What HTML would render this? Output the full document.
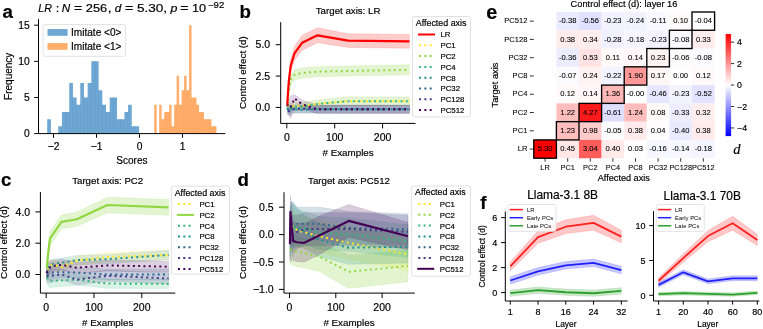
<!DOCTYPE html>
<html><head><meta charset="utf-8"><title>figure</title>
<style>
html,body{margin:0;padding:0;background:#fff;}
body{width:763px;height:329px;overflow:hidden;}
svg{display:block;font-family:"Liberation Sans", sans-serif;will-change:transform;}
text{stroke:#000;stroke-width:0.18px;}
</style></head>
<body>
<svg width="763" height="329" viewBox="0 0 763 329">
<rect width="763" height="329" fill="#fff"/>
<path d="M47.2,133.6V119.15H50.88V133.6ZM58.23,133.6V126.37H61.9V133.6ZM61.9,133.6V111.92H65.58V133.6ZM65.58,133.6V111.92H69.26V133.6ZM69.26,133.6V83.01H72.93V133.6ZM72.93,133.6V97.46H76.61V133.6ZM76.61,133.6V104.69H80.28V133.6ZM80.28,133.6V83.01H83.96V133.6ZM83.96,133.6V97.46H87.64V133.6ZM87.64,133.6V83.01H91.31V133.6ZM91.31,133.6V61.33H94.99V133.6ZM94.99,133.6V61.33H98.66V133.6ZM98.66,133.6V90.24H102.34V133.6ZM102.34,133.6V104.69H106.02V133.6ZM106.02,133.6V111.92H109.69V133.6ZM109.69,133.6V97.46H113.37V133.6ZM113.37,133.6V97.46H117.04V133.6ZM117.04,133.6V119.15H120.72V133.6ZM120.72,133.6V119.15H124.4V133.6ZM124.4,133.6V111.92H128.07V133.6ZM128.07,133.6V104.69H131.75V133.6ZM131.75,133.6V126.37H135.42V133.6ZM135.42,133.6V126.37H139.1V133.6Z" fill="#6ea7d3"/>
<path d="M61.9,133.6V126.37M65.58,133.6V111.92M69.26,133.6V111.92M72.93,133.6V97.46M76.61,133.6V104.69M80.28,133.6V104.69M83.96,133.6V97.46M87.64,133.6V97.46M91.31,133.6V83.01M94.99,133.6V61.33M98.66,133.6V90.24M102.34,133.6V104.69M106.02,133.6V111.92M109.69,133.6V111.92M113.37,133.6V97.46M117.04,133.6V119.15M120.72,133.6V119.15M124.4,133.6V119.15M128.07,133.6V111.92M131.75,133.6V126.37M135.42,133.6V126.37" stroke="#5f9bc9" stroke-width="0.5" fill="none"/>
<path d="M154.2,133.6V104.69H156.69V133.6ZM159.18,133.6V104.69H161.67V133.6ZM161.67,133.6V119.15H164.16V133.6ZM164.16,133.6V111.92H166.65V133.6ZM166.65,133.6V111.92H169.14V133.6ZM169.14,133.6V104.69H171.63V133.6ZM171.63,133.6V126.37H174.12V133.6ZM174.12,133.6V104.69H176.61V133.6ZM176.61,133.6V75.78H179.1V133.6ZM179.1,133.6V104.69H181.59V133.6ZM181.59,133.6V90.24H184.08V133.6ZM184.08,133.6V75.78H186.57V133.6ZM186.57,133.6V90.24H189.06V133.6ZM189.06,133.6V25.19H191.55V133.6ZM191.55,133.6V97.46H194.04V133.6ZM194.04,133.6V97.46H196.53V133.6ZM196.53,133.6V104.69H199.02V133.6ZM199.02,133.6V111.92H201.51V133.6ZM201.51,133.6V111.92H204V133.6ZM204,133.6V119.15H206.49V133.6ZM206.49,133.6V119.15H208.98V133.6ZM208.98,133.6V119.15H211.47V133.6ZM211.47,133.6V126.37H213.96V133.6ZM213.96,133.6V126.37H216.45V133.6Z" fill="#ffae6c"/>
<path d="M161.67,133.6V119.15M164.16,133.6V119.15M166.65,133.6V111.92M169.14,133.6V111.92M171.63,133.6V126.37M174.12,133.6V126.37M176.61,133.6V104.69M179.1,133.6V104.69M181.59,133.6V104.69M184.08,133.6V90.24M186.57,133.6V90.24M189.06,133.6V90.24M191.55,133.6V97.46M194.04,133.6V97.46M196.53,133.6V104.69M199.02,133.6V111.92M201.51,133.6V111.92M204,133.6V119.15M206.49,133.6V119.15M208.98,133.6V119.15M211.47,133.6V126.37M213.96,133.6V126.37" stroke="#ffa45a" stroke-width="0.5" fill="none"/>
<path d="M38.5,19.1 L38.5,133.6 L225.3,133.6" fill="none" stroke="#000" stroke-width="1.0" stroke-linecap="butt"/>
<line x1="34.2" y1="133.6" x2="38.5" y2="133.6" stroke="#000" stroke-width="1" />
<text x="29.7" y="137.31" font-size="10.3" text-anchor="end" >0</text>
<line x1="34.2" y1="97.46" x2="38.5" y2="97.46" stroke="#000" stroke-width="1" />
<text x="29.7" y="101.17" font-size="10.3" text-anchor="end" >5</text>
<line x1="34.2" y1="61.33" x2="38.5" y2="61.33" stroke="#000" stroke-width="1" />
<text x="29.7" y="65.04" font-size="10.3" text-anchor="end" >10</text>
<line x1="34.2" y1="25.19" x2="38.5" y2="25.19" stroke="#000" stroke-width="1" />
<text x="29.7" y="28.9" font-size="10.3" text-anchor="end" >15</text>
<line x1="53.5" y1="133.6" x2="53.5" y2="137.8" stroke="#000" stroke-width="1" />
<text x="53.5" y="150" font-size="10.3" text-anchor="middle" >−2</text>
<line x1="96.5" y1="133.6" x2="96.5" y2="137.8" stroke="#000" stroke-width="1" />
<text x="96.5" y="150" font-size="10.3" text-anchor="middle" >−1</text>
<line x1="139.5" y1="133.6" x2="139.5" y2="137.8" stroke="#000" stroke-width="1" />
<text x="139.5" y="150" font-size="10.3" text-anchor="middle" >0</text>
<line x1="182.5" y1="133.6" x2="182.5" y2="137.8" stroke="#000" stroke-width="1" />
<text x="182.5" y="150" font-size="10.3" text-anchor="middle" >1</text>
<text x="131.9" y="163.5" font-size="10" text-anchor="middle" >Scores</text>
<text transform="translate(11.8,76.3) rotate(-90)" font-size="10" text-anchor="middle" >Frequency</text>
<rect x="43.1" y="24.6" width="82.5" height="31.7" rx="2" fill="#fff" fill-opacity="0.8" stroke="#d9d9d9" stroke-width="0.8"/>
<rect x="47.5" y="29.1" width="20.1" height="6.7" fill="#6ea7d3" />
<rect x="47.5" y="43.1" width="20.1" height="6.7" fill="#ffae6c" />
<text x="71" y="35.9" font-size="10.1" >Imitate &lt;0&gt;</text>
<text x="71" y="49.9" font-size="10.1" >Imitate &lt;1&gt;</text>
<text transform="translate(38.32,12.1) scale(0.9458,1)" font-size="11.3" font-style="italic">LR</text>
<text transform="translate(55.77,12.1) scale(1.1304,1)" font-size="11.3">:</text>
<text transform="translate(61.79,12.1) scale(1.0380,1)" font-size="11.3" font-style="italic">N</text>
<text transform="translate(73.92,12.1) scale(1.2364,1)" font-size="11.3">=</text>
<text transform="translate(85.77,12.1) scale(1.1404,1)" font-size="11.3">256</text>
<text transform="translate(107.68,12.1) scale(1.2174,1)" font-size="11.3">,</text>
<text transform="translate(114.74,12.1) scale(1.0400,1)" font-size="11.3" font-style="italic">d</text>
<text transform="translate(125.01,12.1) scale(1.2545,1)" font-size="11.3">=</text>
<text transform="translate(136.96,12.1) scale(1.2038,1)" font-size="11.3">5.30</text>
<text transform="translate(163.28,12.1) scale(1.2174,1)" font-size="11.3">,</text>
<text transform="translate(170.53,12.1) scale(1.1040,1)" font-size="11.3" font-style="italic">p</text>
<text transform="translate(180.22,12.1) scale(1.2364,1)" font-size="11.3">=</text>
<text transform="translate(191.94,12.1) scale(1.1239,1)" font-size="11.3">10</text>
<text transform="translate(207.95,7.5) scale(1.1159,1)" font-size="8.6">−92</text>
<text x="2.4" y="17.7" font-size="18.7" font-weight="bold" >a</text>
<clipPath id="cb"><rect x="280.7" y="20.2" width="136.8" height="103.2"/></clipPath>
<g clip-path="url(#cb)">
<polygon points="287.28,104.27 287.76,96.11 288.72,87.96 290.63,74.8 294.46,69.78 302.13,67.9 317.46,66.65 348.11,66.02 409.42,64.76 409.42,74.8 348.11,76.05 317.46,76.68 302.13,77.93 294.46,79.81 290.63,84.83 288.72,96.74 287.76,103.64 287.28,108.03" fill="#90d743" fill-opacity="0.25" stroke="#90d743" stroke-opacity="0.25" stroke-width="0.6"/>
<polygon points="287.28,103.64 287.76,102.38 288.72,101.76 290.63,102.38 294.46,101.76 302.13,102.13 317.46,99.88 348.11,96.74 409.42,96.99 409.42,105.77 348.11,105.52 317.46,107.9 302.13,109.66 294.46,109.28 290.63,109.91 288.72,109.28 287.76,108.65 287.28,108.65" fill="#fde725" fill-opacity="0.13" stroke="#fde725" stroke-opacity="0.13" stroke-width="0.6"/>
<polygon points="287.28,104.89 287.76,103.01 288.72,101.76 290.63,103.01 294.46,103.01 302.13,103.01 317.46,99.88 348.11,96.74 409.42,96.99 409.42,105.77 348.11,105.52 317.46,107.9 302.13,110.54 294.46,110.54 290.63,111.79 288.72,110.54 287.76,111.79 287.28,112.42" fill="#35b779" fill-opacity="0.13" stroke="#35b779" stroke-opacity="0.13" stroke-width="0.6"/>
<polygon points="287.28,103.64 287.76,104.89 288.72,104.89 290.63,104.89 294.46,105.52 302.13,106.15 317.46,105.52 348.11,105.52 409.42,105.52 409.42,113.04 348.11,113.04 317.46,113.04 302.13,113.67 294.46,113.04 290.63,112.42 288.72,114.92 287.76,114.92 287.28,113.67" fill="#21918c" fill-opacity="0.13" stroke="#21918c" stroke-opacity="0.13" stroke-width="0.6"/>
<polygon points="287.28,102.38 287.76,103.64 288.72,104.89 290.63,106.15 294.46,105.52 302.13,104.89 317.46,105.52 348.11,105.52 409.42,105.52 409.42,113.04 348.11,113.04 317.46,113.04 302.13,112.42 294.46,113.04 290.63,113.67 288.72,114.92 287.76,113.67 287.28,112.42" fill="#31688e" fill-opacity="0.13" stroke="#31688e" stroke-opacity="0.13" stroke-width="0.6"/>
<polygon points="287.28,104.89 287.76,105.52 288.72,106.15 290.63,106.15 294.46,104.27 302.13,104.89 317.46,105.52 348.11,105.27 409.42,105.27 409.42,113.29 348.11,113.29 317.46,113.04 302.13,112.42 294.46,113.04 290.63,116.18 288.72,116.18 287.76,114.3 287.28,112.42" fill="#443983" fill-opacity="0.13" stroke="#443983" stroke-opacity="0.13" stroke-width="0.6"/>
<polygon points="287.28,102.38 287.76,99.88 288.72,98 290.63,96.11 294.46,94.61 302.13,99.88 317.46,104.89 348.11,105.02 409.42,105.02 409.42,113.54 348.11,113.54 317.46,113.67 302.13,108.65 294.46,102.13 290.63,118.69 288.72,113.04 287.76,109.91 287.28,109.91" fill="#440154" fill-opacity="0.16" stroke="#440154" stroke-opacity="0.16" stroke-width="0.6"/>
<polygon points="287.28,103.64 287.76,92.35 288.72,77.3 290.63,59.75 294.46,46.58 302.13,35.3 317.46,27.77 348.11,33.66 409.42,34.42 409.42,48.21 348.11,47.46 317.46,42.82 302.13,50.34 294.46,60.38 290.63,72.29 288.72,87.34 287.76,99.88 287.28,106.15" fill="#ff0000" fill-opacity="0.2" stroke="#ff0000" stroke-opacity="0.2" stroke-width="0.6"/>
<polyline points="287.28,106.15 287.76,99.88 288.72,92.35 290.63,79.81 294.46,74.8 302.13,72.92 317.46,71.66 348.11,71.03 409.42,69.78" fill="none" stroke="#90d743" stroke-width="2" stroke-dasharray="2 3.3" stroke-linecap="butt" stroke-linejoin="round" />
<polyline points="287.28,106.15 287.76,105.52 288.72,105.52 290.63,106.15 294.46,105.52 302.13,105.9 317.46,103.89 348.11,101.13 409.42,101.38" fill="none" stroke="#fde725" stroke-width="2" stroke-dasharray="2 3.3" stroke-linecap="butt" stroke-linejoin="round" />
<polyline points="287.28,108.65 287.76,107.4 288.72,106.15 290.63,107.4 294.46,106.77 302.13,106.77 317.46,103.89 348.11,101.13 409.42,101.38" fill="none" stroke="#35b779" stroke-width="2" stroke-dasharray="2 3.3" stroke-linecap="butt" stroke-linejoin="round" stroke-dashoffset="1.074"/>
<polyline points="287.28,108.65 287.76,109.91 288.72,109.91 290.63,108.65 294.46,109.28 302.13,109.91 317.46,109.28 348.11,109.28 409.42,109.28" fill="none" stroke="#21918c" stroke-width="2" stroke-dasharray="2 3.3" stroke-linecap="butt" stroke-linejoin="round" stroke-dashoffset="1.323"/>
<polyline points="287.28,107.4 287.76,108.65 288.72,109.91 290.63,109.91 294.46,109.28 302.13,108.65 317.46,109.28 348.11,109.28 409.42,109.28" fill="none" stroke="#31688e" stroke-width="2" stroke-dasharray="2 3.3" stroke-linecap="butt" stroke-linejoin="round" stroke-dashoffset="3.727"/>
<polyline points="287.28,108.65 287.76,109.91 288.72,111.16 290.63,111.16 294.46,108.65 302.13,108.65 317.46,109.28 348.11,109.28 409.42,109.28" fill="none" stroke="#443983" stroke-width="2" stroke-dasharray="2 3.3" stroke-linecap="butt" stroke-linejoin="round" stroke-dashoffset="3.056"/>
<polyline points="287.28,106.15 287.76,104.89 288.72,105.52 290.63,107.4 294.46,98.37 302.13,104.27 317.46,109.28 348.11,109.28 409.42,109.28" fill="none" stroke="#440154" stroke-width="2" stroke-dasharray="2 3.3" stroke-linecap="butt" stroke-linejoin="round" />
<polyline points="287.28,104.89 287.76,96.11 288.72,82.32 290.63,66.02 294.46,53.48 302.13,42.82 317.46,35.3 348.11,40.56 409.42,41.31" fill="none" stroke="#ff0000" stroke-width="2.2" stroke-linecap="butt" stroke-linejoin="round" />
</g>
<path d="M280.7,22.2 L280.7,123.4 L415.5,123.4" fill="none" stroke="#000" stroke-width="1.0" stroke-linecap="butt"/>
<line x1="275.7" y1="107.4" x2="280.7" y2="107.4" stroke="#000" stroke-width="1" />
<text x="270.2" y="111.18" font-size="10.5" text-anchor="end" >0.0</text>
<line x1="275.7" y1="76.05" x2="280.7" y2="76.05" stroke="#000" stroke-width="1" />
<text x="270.2" y="79.83" font-size="10.5" text-anchor="end" >2.5</text>
<line x1="275.7" y1="44.7" x2="280.7" y2="44.7" stroke="#000" stroke-width="1" />
<text x="270.2" y="48.48" font-size="10.5" text-anchor="end" >5.0</text>
<line x1="286.8" y1="123.4" x2="286.8" y2="128.4" stroke="#000" stroke-width="1" />
<text x="286.8" y="141.3" font-size="10.5" text-anchor="middle" >0</text>
<line x1="334.7" y1="123.4" x2="334.7" y2="128.4" stroke="#000" stroke-width="1" />
<text x="334.7" y="141.3" font-size="10.5" text-anchor="middle" >100</text>
<line x1="382.6" y1="123.4" x2="382.6" y2="128.4" stroke="#000" stroke-width="1" />
<text x="382.6" y="141.3" font-size="10.5" text-anchor="middle" >200</text>
<text x="348.1" y="14.4" font-size="9.7" text-anchor="middle" >Target axis: LR</text>
<text x="348.1" y="156.2" font-size="9.8" text-anchor="middle" ># Examples</text>
<text transform="translate(246.3,72.6) rotate(-90)" font-size="9.8" text-anchor="middle" >Control effect (d)</text>
<rect x="412.5" y="16.5" width="58" height="100.4" rx="2" fill="#fff" fill-opacity="0.8" stroke="#d9d9d9" stroke-width="0.8"/>
<text x="415.8" y="25.9" font-size="8.9" >Affected axis</text>
<line x1="418" y1="34.5" x2="435" y2="34.5" stroke="#ff0000" stroke-width="2" />
<text x="440.5" y="37.4" font-size="7.8" >LR</text>
<line x1="419.1" y1="45.3" x2="432.7" y2="45.3" stroke="#fde725" stroke-width="2" stroke-dasharray="2 3.3"/>
<text x="440.5" y="48.2" font-size="7.8" >PC1</text>
<line x1="419.1" y1="56.1" x2="432.7" y2="56.1" stroke="#90d743" stroke-width="2" stroke-dasharray="2 3.3"/>
<text x="440.5" y="59" font-size="7.8" >PC2</text>
<line x1="419.1" y1="66.9" x2="432.7" y2="66.9" stroke="#35b779" stroke-width="2" stroke-dasharray="2 3.3"/>
<text x="440.5" y="69.8" font-size="7.8" >PC4</text>
<line x1="419.1" y1="77.7" x2="432.7" y2="77.7" stroke="#21918c" stroke-width="2" stroke-dasharray="2 3.3"/>
<text x="440.5" y="80.6" font-size="7.8" >PC8</text>
<line x1="419.1" y1="88.5" x2="432.7" y2="88.5" stroke="#31688e" stroke-width="2" stroke-dasharray="2 3.3"/>
<text x="440.5" y="91.4" font-size="7.8" >PC32</text>
<line x1="419.1" y1="99.3" x2="432.7" y2="99.3" stroke="#443983" stroke-width="2" stroke-dasharray="2 3.3"/>
<text x="440.5" y="102.2" font-size="7.8" >PC128</text>
<line x1="419.1" y1="110.1" x2="432.7" y2="110.1" stroke="#440154" stroke-width="2" stroke-dasharray="2 3.3"/>
<text x="440.5" y="113" font-size="7.8" >PC512</text>
<text x="239.4" y="18.1" font-size="18.7" font-weight="bold" >b</text>
<clipPath id="cc"><rect x="40.4" y="190.1" width="136.9" height="103"/></clipPath>
<g clip-path="url(#cc)">
<polygon points="46.68,267.46 47.16,265.11 48.11,262.76 50.02,259.63 53.85,260.1 61.5,262.45 76.79,256.03 107.38,252.28 168.57,250.24 168.57,259.63 107.38,261.67 76.79,265.42 61.5,271.84 53.85,269.49 50.02,270.59 48.11,275.28 47.16,277.63 46.68,278.41" fill="#fde725" fill-opacity="0.16" stroke="#fde725" stroke-opacity="0.16" stroke-width="0.6"/>
<polygon points="46.68,272.15 47.16,271.37 48.11,272.15 50.02,273.72 53.85,274.5 61.5,274.19 76.79,274.19 107.38,278.88 168.57,279.19 168.57,288.58 107.38,288.27 76.79,285.14 61.5,286.71 53.85,287.02 50.02,287.8 48.11,286.24 47.16,283.89 46.68,283.11" fill="#35b779" fill-opacity="0.18" stroke="#35b779" stroke-opacity="0.18" stroke-width="0.6"/>
<polygon points="46.68,267.46 47.16,265.11 48.11,262.76 50.02,259.63 53.85,258.85 61.5,258.07 76.79,255.41 107.38,254.47 168.57,250.24 168.57,259.63 107.38,263.86 76.79,264.8 61.5,267.46 53.85,268.24 50.02,270.59 48.11,275.28 47.16,277.63 46.68,278.41" fill="#21918c" fill-opacity="0.16" stroke="#21918c" stroke-opacity="0.16" stroke-width="0.6"/>
<polygon points="46.68,268.24 47.16,267.46 48.11,266.21 50.02,265.89 53.85,266.05 61.5,266.83 76.79,267.14 107.38,269.02 168.57,269.02 168.57,279.98 107.38,279.98 76.79,278.1 61.5,277.79 53.85,278.57 50.02,279.98 48.11,280.29 47.16,279.98 46.68,279.19" fill="#31688e" fill-opacity="0.16" stroke="#31688e" stroke-opacity="0.16" stroke-width="0.6"/>
<polygon points="46.68,270.59 47.16,269.81 48.11,269.02 50.02,269.02 53.85,269.02 61.5,269.02 76.79,274.03 107.38,270.27 168.57,272.94 168.57,283.89 107.38,281.23 76.79,284.99 61.5,279.98 53.85,281.54 50.02,283.11 48.11,283.11 47.16,282.32 46.68,281.54" fill="#443983" fill-opacity="0.16" stroke="#443983" stroke-opacity="0.16" stroke-width="0.6"/>
<polygon points="46.68,267.46 47.16,265.11 48.11,263.55 50.02,261.2 53.85,260.42 61.5,259.32 76.79,262.29 107.38,259.95 168.57,261.2 168.57,272.15 107.38,270.9 76.79,273.25 61.5,270.27 53.85,271.37 50.02,273.72 48.11,276.06 47.16,277.63 46.68,278.41" fill="#440154" fill-opacity="0.18" stroke="#440154" stroke-opacity="0.18" stroke-width="0.6"/>
<polygon points="46.68,262.92 47.16,258.07 48.11,247.89 50.02,231.31 53.85,225.83 61.5,215.03 76.79,212.21 107.38,197.19 168.57,199.54 168.57,215.19 107.38,212.84 76.79,226.3 61.5,228.8 53.85,239.91 50.02,245.39 48.11,260.42 47.16,269.02 46.68,272.31" fill="#90d743" fill-opacity="0.25" stroke="#90d743" stroke-opacity="0.25" stroke-width="0.6"/>
<polyline points="46.68,272.94 47.16,271.37 48.11,269.02 50.02,265.11 53.85,264.8 61.5,267.14 76.79,260.73 107.38,256.97 168.57,254.94" fill="none" stroke="#fde725" stroke-width="2" stroke-dasharray="2 3.3" stroke-linecap="butt" stroke-linejoin="round" stroke-dashoffset="1.356"/>
<polyline points="46.68,277.63 47.16,277.63 48.11,279.19 50.02,280.76 53.85,280.76 61.5,280.45 76.79,279.66 107.38,283.58 168.57,283.89" fill="none" stroke="#35b779" stroke-width="2" stroke-dasharray="2 3.3" stroke-linecap="butt" stroke-linejoin="round" />
<polyline points="46.68,272.94 47.16,271.37 48.11,269.02 50.02,265.11 53.85,263.55 61.5,262.76 76.79,260.1 107.38,259.16 168.57,254.94" fill="none" stroke="#21918c" stroke-width="2" stroke-dasharray="2 3.3" stroke-linecap="butt" stroke-linejoin="round" />
<polyline points="46.68,273.72 47.16,273.72 48.11,273.25 50.02,272.94 53.85,272.31 61.5,272.31 76.79,272.62 107.38,274.5 168.57,274.5" fill="none" stroke="#31688e" stroke-width="2" stroke-dasharray="2 3.3" stroke-linecap="butt" stroke-linejoin="round" />
<polyline points="46.68,276.06 47.16,276.06 48.11,276.06 50.02,276.06 53.85,275.28 61.5,274.5 76.79,279.51 107.38,275.75 168.57,278.41" fill="none" stroke="#443983" stroke-width="2" stroke-dasharray="2 3.3" stroke-linecap="butt" stroke-linejoin="round" />
<polyline points="46.68,272.94 47.16,271.37 48.11,269.81 50.02,267.46 53.85,265.89 61.5,264.8 76.79,267.77 107.38,265.42 168.57,266.68" fill="none" stroke="#440154" stroke-width="2" stroke-dasharray="2 3.3" stroke-linecap="butt" stroke-linejoin="round" />
<polyline points="46.68,267.61 47.16,263.55 48.11,254.16 50.02,238.35 53.85,232.87 61.5,221.92 76.79,219.26 107.38,205.01 168.57,207.36" fill="none" stroke="#90d743" stroke-width="2.2" stroke-linecap="butt" stroke-linejoin="round" />
</g>
<path d="M40.4,192.1 L40.4,293.1 L175.3,293.1" fill="none" stroke="#000" stroke-width="1.0" stroke-linecap="butt"/>
<line x1="35.4" y1="274.5" x2="40.4" y2="274.5" stroke="#000" stroke-width="1" />
<text x="30.2" y="278.28" font-size="10.5" text-anchor="end" >0.0</text>
<line x1="35.4" y1="243.2" x2="40.4" y2="243.2" stroke="#000" stroke-width="1" />
<text x="30.2" y="246.98" font-size="10.5" text-anchor="end" >2.0</text>
<line x1="35.4" y1="211.9" x2="40.4" y2="211.9" stroke="#000" stroke-width="1" />
<text x="30.2" y="215.68" font-size="10.5" text-anchor="end" >4.0</text>
<line x1="46.2" y1="293.1" x2="46.2" y2="298.1" stroke="#000" stroke-width="1" />
<text x="46.2" y="311" font-size="10.5" text-anchor="middle" >0</text>
<line x1="94" y1="293.1" x2="94" y2="298.1" stroke="#000" stroke-width="1" />
<text x="94" y="311" font-size="10.5" text-anchor="middle" >100</text>
<line x1="141.8" y1="293.1" x2="141.8" y2="298.1" stroke="#000" stroke-width="1" />
<text x="141.8" y="311" font-size="10.5" text-anchor="middle" >200</text>
<text x="107.7" y="184.4" font-size="9.7" text-anchor="middle" >Target axis: PC2</text>
<text x="107.7" y="325.9" font-size="9.8" text-anchor="middle" ># Examples</text>
<text transform="translate(7,242.5) rotate(-90)" font-size="9.8" text-anchor="middle" >Control effect (d)</text>
<rect x="171.4" y="186.1" width="58.1" height="88" rx="2" fill="#fff" fill-opacity="0.8" stroke="#d9d9d9" stroke-width="0.8"/>
<text x="174.7" y="195.5" font-size="8.9" >Affected axis</text>
<line x1="178" y1="204.1" x2="191.6" y2="204.1" stroke="#fde725" stroke-width="2" stroke-dasharray="2 3.3"/>
<text x="199.4" y="207" font-size="7.8" >PC1</text>
<line x1="176.9" y1="214.9" x2="193.9" y2="214.9" stroke="#90d743" stroke-width="2" />
<text x="199.4" y="217.8" font-size="7.8" >PC2</text>
<line x1="178" y1="225.7" x2="191.6" y2="225.7" stroke="#35b779" stroke-width="2" stroke-dasharray="2 3.3"/>
<text x="199.4" y="228.6" font-size="7.8" >PC4</text>
<line x1="178" y1="236.5" x2="191.6" y2="236.5" stroke="#21918c" stroke-width="2" stroke-dasharray="2 3.3"/>
<text x="199.4" y="239.4" font-size="7.8" >PC8</text>
<line x1="178" y1="247.3" x2="191.6" y2="247.3" stroke="#31688e" stroke-width="2" stroke-dasharray="2 3.3"/>
<text x="199.4" y="250.2" font-size="7.8" >PC32</text>
<line x1="178" y1="258.1" x2="191.6" y2="258.1" stroke="#443983" stroke-width="2" stroke-dasharray="2 3.3"/>
<text x="199.4" y="261" font-size="7.8" >PC128</text>
<line x1="178" y1="268.9" x2="191.6" y2="268.9" stroke="#440154" stroke-width="2" stroke-dasharray="2 3.3"/>
<text x="199.4" y="271.8" font-size="7.8" >PC512</text>
<text x="1.1" y="185.5" font-size="18.7" font-weight="bold" >c</text>
<clipPath id="cd"><rect x="284" y="190.2" width="132.8" height="102.9"/></clipPath>
<g clip-path="url(#cd)">
<polygon points="289.96,220.9 290.43,215.42 291.35,212.68 293.2,209.94 296.91,213.78 304.32,215.97 319.13,219.8 348.76,226.38 408.03,237.89 408.03,270.77 348.76,259.26 319.13,252.68 304.32,248.85 296.91,246.66 293.2,242.82 291.35,245.56 290.43,242.82 289.96,242.82" fill="#fde725" fill-opacity="0.2" stroke="#fde725" stroke-opacity="0.2" stroke-width="0.6"/>
<polygon points="289.96,235.15 290.43,235.15 291.35,235.15 293.2,236.24 296.91,236.79 304.32,238.44 319.13,241.72 348.76,255.42 408.03,249.94 408.03,281.73 348.76,288.3 319.13,271.32 304.32,268.03 296.91,266.38 293.2,265.84 291.35,264.74 290.43,263.64 289.96,263.64" fill="#90d743" fill-opacity="0.25" stroke="#90d743" stroke-opacity="0.25" stroke-width="0.6"/>
<polygon points="289.96,223.64 290.43,212.68 291.35,204.46 293.2,204.46 296.91,209.94 304.32,211.58 319.13,216.52 348.76,218.16 408.03,224.74 408.03,257.62 348.76,251.04 319.13,249.4 304.32,244.46 296.91,248.3 293.2,248.3 291.35,253.78 290.43,256.52 289.96,256.52" fill="#35b779" fill-opacity="0.2" stroke="#35b779" stroke-opacity="0.2" stroke-width="0.6"/>
<polygon points="289.96,218.16 290.43,207.2 291.35,201.72 293.2,204.46 296.91,207.2 304.32,215.42 319.13,223.64 348.76,231.31 408.03,230.22 408.03,263.1 348.76,264.19 319.13,256.52 304.32,248.3 296.91,245.56 293.2,248.3 291.35,251.04 290.43,251.04 289.96,251.04" fill="#21918c" fill-opacity="0.2" stroke="#21918c" stroke-opacity="0.2" stroke-width="0.6"/>
<polygon points="289.96,212.68 290.43,207.2 291.35,201.72 293.2,201.72 296.91,207.2 304.32,207.2 319.13,207.2 348.76,211.58 408.03,213.78 408.03,244.46 348.76,244.46 319.13,240.08 304.32,240.08 296.91,240.08 293.2,245.56 291.35,245.56 290.43,245.56 289.96,245.56" fill="#31688e" fill-opacity="0.2" stroke="#31688e" stroke-opacity="0.2" stroke-width="0.6"/>
<polygon points="289.96,218.16 290.43,220.9 291.35,218.16 293.2,215.42 296.91,215.42 304.32,212.68 319.13,212.68 348.76,212.68 408.03,215.42 408.03,248.3 348.76,245.56 319.13,245.56 304.32,245.56 296.91,248.3 293.2,253.78 291.35,262 290.43,259.26 289.96,251.04" fill="#443983" fill-opacity="0.2" stroke="#443983" stroke-opacity="0.2" stroke-width="0.6"/>
<polygon points="289.96,227.48 290.43,195.69 291.35,204.46 293.2,222 296.91,223.09 304.32,223.64 319.13,216.35 348.76,204.46 408.03,222.54 408.03,249.94 348.76,237.34 319.13,254.71 304.32,262 296.91,261.45 293.2,260.36 291.35,242.82 290.43,228.57 289.96,260.36" fill="#440154" fill-opacity="0.2" stroke="#440154" stroke-opacity="0.2" stroke-width="0.6"/>
<polyline points="289.96,231.86 290.43,229.12 291.35,229.12 293.2,226.38 296.91,230.22 304.32,232.41 319.13,236.24 348.76,242.82 408.03,254.33" fill="none" stroke="#fde725" stroke-width="2" stroke-dasharray="2 3.3" stroke-linecap="butt" stroke-linejoin="round" />
<polyline points="289.96,249.4 290.43,249.4 291.35,249.94 293.2,251.04 296.91,251.59 304.32,253.23 319.13,256.52 348.76,271.86 408.03,265.84" fill="none" stroke="#90d743" stroke-width="2" stroke-dasharray="2 3.3" stroke-linecap="butt" stroke-linejoin="round" />
<polyline points="289.96,240.08 290.43,234.6 291.35,229.12 293.2,226.38 296.91,229.12 304.32,228.02 319.13,232.96 348.76,234.6 408.03,241.18" fill="none" stroke="#35b779" stroke-width="2" stroke-dasharray="2 3.3" stroke-linecap="butt" stroke-linejoin="round" />
<polyline points="289.96,234.6 290.43,229.12 291.35,226.38 293.2,226.38 296.91,226.38 304.32,231.86 319.13,240.08 348.76,247.75 408.03,246.66" fill="none" stroke="#21918c" stroke-width="2" stroke-dasharray="2 3.3" stroke-linecap="butt" stroke-linejoin="round" />
<polyline points="289.96,229.12 290.43,226.38 291.35,223.64 293.2,223.64 296.91,223.64 304.32,223.64 319.13,223.64 348.76,228.02 408.03,229.12" fill="none" stroke="#31688e" stroke-width="2" stroke-dasharray="2 3.3" stroke-linecap="butt" stroke-linejoin="round" />
<polyline points="289.96,234.6 290.43,240.08 291.35,240.08 293.2,234.6 296.91,231.86 304.32,229.12 319.13,229.12 348.76,229.12 408.03,231.86" fill="none" stroke="#443983" stroke-width="2" stroke-dasharray="2 3.3" stroke-linecap="butt" stroke-linejoin="round" />
<polyline points="289.96,243.92 290.43,212.13 291.35,223.64 293.2,241.18 296.91,242.27 304.32,242.82 319.13,235.53 348.76,220.9 408.03,236.24" fill="none" stroke="#440154" stroke-width="2.2" stroke-linecap="butt" stroke-linejoin="round" />
</g>
<path d="M284,192.2 L284,293.1 L414.8,293.1" fill="none" stroke="#000" stroke-width="1.0" stroke-linecap="butt"/>
<line x1="279" y1="289.4" x2="284" y2="289.4" stroke="#000" stroke-width="1" />
<text x="273.7" y="293.18" font-size="10.5" text-anchor="end" >−1.0</text>
<line x1="279" y1="262" x2="284" y2="262" stroke="#000" stroke-width="1" />
<text x="273.7" y="265.78" font-size="10.5" text-anchor="end" >−0.5</text>
<line x1="279" y1="234.6" x2="284" y2="234.6" stroke="#000" stroke-width="1" />
<text x="273.7" y="238.38" font-size="10.5" text-anchor="end" >0.0</text>
<line x1="279" y1="207.2" x2="284" y2="207.2" stroke="#000" stroke-width="1" />
<text x="273.7" y="210.98" font-size="10.5" text-anchor="end" >0.5</text>
<line x1="289.5" y1="293.1" x2="289.5" y2="298.1" stroke="#000" stroke-width="1" />
<text x="289.5" y="311" font-size="10.5" text-anchor="middle" >0</text>
<line x1="335.8" y1="293.1" x2="335.8" y2="298.1" stroke="#000" stroke-width="1" />
<text x="335.8" y="311" font-size="10.5" text-anchor="middle" >100</text>
<line x1="382.1" y1="293.1" x2="382.1" y2="298.1" stroke="#000" stroke-width="1" />
<text x="382.1" y="311" font-size="10.5" text-anchor="middle" >200</text>
<text x="349" y="184.4" font-size="9.7" text-anchor="middle" >Target axis: PC512</text>
<text x="349" y="325.9" font-size="9.8" text-anchor="middle" ># Examples</text>
<text transform="translate(246.2,242.5) rotate(-90)" font-size="9.8" text-anchor="middle" >Control effect (d)</text>
<rect x="411.7" y="186" width="58.8" height="90.2" rx="2" fill="#fff" fill-opacity="0.8" stroke="#d9d9d9" stroke-width="0.8"/>
<text x="415" y="195.4" font-size="8.9" >Affected axis</text>
<line x1="418.3" y1="204" x2="431.9" y2="204" stroke="#fde725" stroke-width="2" stroke-dasharray="2 3.3"/>
<text x="439.7" y="206.9" font-size="7.8" >PC1</text>
<line x1="418.3" y1="214.8" x2="431.9" y2="214.8" stroke="#90d743" stroke-width="2" stroke-dasharray="2 3.3"/>
<text x="439.7" y="217.7" font-size="7.8" >PC2</text>
<line x1="418.3" y1="225.6" x2="431.9" y2="225.6" stroke="#35b779" stroke-width="2" stroke-dasharray="2 3.3"/>
<text x="439.7" y="228.5" font-size="7.8" >PC4</text>
<line x1="418.3" y1="236.4" x2="431.9" y2="236.4" stroke="#21918c" stroke-width="2" stroke-dasharray="2 3.3"/>
<text x="439.7" y="239.3" font-size="7.8" >PC8</text>
<line x1="418.3" y1="247.2" x2="431.9" y2="247.2" stroke="#31688e" stroke-width="2" stroke-dasharray="2 3.3"/>
<text x="439.7" y="250.1" font-size="7.8" >PC32</text>
<line x1="418.3" y1="258" x2="431.9" y2="258" stroke="#443983" stroke-width="2" stroke-dasharray="2 3.3"/>
<text x="439.7" y="260.9" font-size="7.8" >PC128</text>
<line x1="417.2" y1="268.8" x2="434.2" y2="268.8" stroke="#440154" stroke-width="2" />
<text x="439.7" y="271.7" font-size="7.8" >PC512</text>
<text x="237.4" y="186.2" font-size="18.7" font-weight="bold" >d</text>
<rect x="556.4" y="12" width="22.65" height="18.32" fill="rgb(235,235,255)" />
<rect x="579" y="12" width="22.65" height="18.32" fill="rgb(225,225,255)" />
<rect x="601.6" y="12" width="22.65" height="18.32" fill="rgb(243,243,255)" />
<rect x="624.2" y="12" width="22.65" height="18.32" fill="rgb(242,242,255)" />
<rect x="646.8" y="12" width="22.65" height="18.32" fill="rgb(249,249,255)" />
<rect x="669.4" y="12" width="22.65" height="18.32" fill="rgb(255,250,250)" />
<rect x="692" y="12" width="22.65" height="18.32" fill="rgb(253,253,255)" />
<rect x="556.4" y="30.27" width="22.65" height="18.32" fill="rgb(255,235,235)" />
<rect x="579" y="30.27" width="22.65" height="18.32" fill="rgb(255,237,237)" />
<rect x="601.6" y="30.27" width="22.65" height="18.32" fill="rgb(240,240,255)" />
<rect x="624.2" y="30.27" width="22.65" height="18.32" fill="rgb(245,245,255)" />
<rect x="646.8" y="30.27" width="22.65" height="18.32" fill="rgb(243,243,255)" />
<rect x="669.4" y="30.27" width="22.65" height="18.32" fill="rgb(251,251,255)" />
<rect x="692" y="30.27" width="22.65" height="18.32" fill="rgb(255,237,237)" />
<rect x="556.4" y="48.55" width="22.65" height="18.32" fill="rgb(236,236,255)" />
<rect x="579" y="48.55" width="22.65" height="18.32" fill="rgb(255,227,227)" />
<rect x="601.6" y="48.55" width="22.65" height="18.32" fill="rgb(255,249,249)" />
<rect x="624.2" y="48.55" width="22.65" height="18.32" fill="rgb(255,247,247)" />
<rect x="646.8" y="48.55" width="22.65" height="18.32" fill="rgb(255,243,243)" />
<rect x="669.4" y="48.55" width="22.65" height="18.32" fill="rgb(252,252,255)" />
<rect x="692" y="48.55" width="22.65" height="18.32" fill="rgb(251,251,255)" />
<rect x="556.4" y="66.82" width="22.65" height="18.32" fill="rgb(251,251,255)" />
<rect x="579" y="66.82" width="22.65" height="18.32" fill="rgb(255,242,242)" />
<rect x="601.6" y="66.82" width="22.65" height="18.32" fill="rgb(243,243,255)" />
<rect x="624.2" y="66.82" width="22.65" height="18.32" fill="rgb(255,153,153)" />
<rect x="646.8" y="66.82" width="22.65" height="18.32" fill="rgb(255,246,246)" />
<rect x="669.4" y="66.82" width="22.65" height="18.32" fill="rgb(255,255,255)" />
<rect x="692" y="66.82" width="22.65" height="18.32" fill="rgb(255,249,249)" />
<rect x="556.4" y="85.1" width="22.65" height="18.32" fill="rgb(255,249,249)" />
<rect x="579" y="85.1" width="22.65" height="18.32" fill="rgb(255,247,247)" />
<rect x="601.6" y="85.1" width="22.65" height="18.32" fill="rgb(255,182,182)" />
<rect x="624.2" y="85.1" width="22.65" height="18.32" fill="rgb(255,255,255)" />
<rect x="646.8" y="85.1" width="22.65" height="18.32" fill="rgb(230,230,255)" />
<rect x="669.4" y="85.1" width="22.65" height="18.32" fill="rgb(243,243,255)" />
<rect x="692" y="85.1" width="22.65" height="18.32" fill="rgb(227,227,255)" />
<rect x="556.4" y="103.38" width="22.65" height="18.32" fill="rgb(255,190,190)" />
<rect x="579" y="103.38" width="22.65" height="18.32" fill="rgb(255,26,26)" />
<rect x="601.6" y="103.38" width="22.65" height="18.32" fill="rgb(222,222,255)" />
<rect x="624.2" y="103.38" width="22.65" height="18.32" fill="rgb(255,188,188)" />
<rect x="646.8" y="103.38" width="22.65" height="18.32" fill="rgb(255,251,251)" />
<rect x="669.4" y="103.38" width="22.65" height="18.32" fill="rgb(237,237,255)" />
<rect x="692" y="103.38" width="22.65" height="18.32" fill="rgb(255,238,238)" />
<rect x="556.4" y="121.65" width="22.65" height="18.32" fill="rgb(255,189,189)" />
<rect x="579" y="121.65" width="22.65" height="18.32" fill="rgb(255,202,202)" />
<rect x="601.6" y="121.65" width="22.65" height="18.32" fill="rgb(252,252,255)" />
<rect x="624.2" y="121.65" width="22.65" height="18.32" fill="rgb(255,235,235)" />
<rect x="646.8" y="121.65" width="22.65" height="18.32" fill="rgb(255,253,253)" />
<rect x="669.4" y="121.65" width="22.65" height="18.32" fill="rgb(234,234,255)" />
<rect x="692" y="121.65" width="22.65" height="18.32" fill="rgb(255,235,235)" />
<rect x="533.8" y="139.92" width="22.65" height="18.32" fill="rgb(255,0,0)" />
<rect x="556.4" y="139.92" width="22.65" height="18.32" fill="rgb(255,231,231)" />
<rect x="579" y="139.92" width="22.65" height="18.32" fill="rgb(255,92,92)" />
<rect x="601.6" y="139.92" width="22.65" height="18.32" fill="rgb(255,234,234)" />
<rect x="624.2" y="139.92" width="22.65" height="18.32" fill="rgb(255,253,253)" />
<rect x="646.8" y="139.92" width="22.65" height="18.32" fill="rgb(246,246,255)" />
<rect x="669.4" y="139.92" width="22.65" height="18.32" fill="rgb(247,247,255)" />
<rect x="692" y="139.92" width="22.65" height="18.32" fill="rgb(245,245,255)" />
<text transform="translate(567.7,23.29) scale(0.95,1)" font-size="8" text-anchor="middle" style="stroke-width:0.08px">-0.38</text>
<text transform="translate(590.3,23.29) scale(0.95,1)" font-size="8" text-anchor="middle" style="stroke-width:0.08px">-0.56</text>
<text transform="translate(612.9,23.29) scale(0.95,1)" font-size="8" text-anchor="middle" style="stroke-width:0.08px">-0.23</text>
<text transform="translate(635.5,23.29) scale(0.95,1)" font-size="8" text-anchor="middle" style="stroke-width:0.08px">-0.24</text>
<text transform="translate(658.1,23.29) scale(0.95,1)" font-size="8" text-anchor="middle" style="stroke-width:0.08px">-0.11</text>
<text transform="translate(680.7,23.29) scale(0.95,1)" font-size="8" text-anchor="middle" style="stroke-width:0.08px">0.10</text>
<text transform="translate(703.3,23.29) scale(0.95,1)" font-size="8" text-anchor="middle" style="stroke-width:0.08px">-0.04</text>
<text transform="translate(567.7,41.56) scale(0.95,1)" font-size="8" text-anchor="middle" style="stroke-width:0.08px">0.38</text>
<text transform="translate(590.3,41.56) scale(0.95,1)" font-size="8" text-anchor="middle" style="stroke-width:0.08px">0.34</text>
<text transform="translate(612.9,41.56) scale(0.95,1)" font-size="8" text-anchor="middle" style="stroke-width:0.08px">-0.28</text>
<text transform="translate(635.5,41.56) scale(0.95,1)" font-size="8" text-anchor="middle" style="stroke-width:0.08px">-0.18</text>
<text transform="translate(658.1,41.56) scale(0.95,1)" font-size="8" text-anchor="middle" style="stroke-width:0.08px">-0.23</text>
<text transform="translate(680.7,41.56) scale(0.95,1)" font-size="8" text-anchor="middle" style="stroke-width:0.08px">-0.08</text>
<text transform="translate(703.3,41.56) scale(0.95,1)" font-size="8" text-anchor="middle" style="stroke-width:0.08px">0.33</text>
<text transform="translate(567.7,59.84) scale(0.95,1)" font-size="8" text-anchor="middle" style="stroke-width:0.08px">-0.36</text>
<text transform="translate(590.3,59.84) scale(0.95,1)" font-size="8" text-anchor="middle" style="stroke-width:0.08px">0.53</text>
<text transform="translate(612.9,59.84) scale(0.95,1)" font-size="8" text-anchor="middle" style="stroke-width:0.08px">0.11</text>
<text transform="translate(635.5,59.84) scale(0.95,1)" font-size="8" text-anchor="middle" style="stroke-width:0.08px">0.14</text>
<text transform="translate(658.1,59.84) scale(0.95,1)" font-size="8" text-anchor="middle" style="stroke-width:0.08px">0.23</text>
<text transform="translate(680.7,59.84) scale(0.95,1)" font-size="8" text-anchor="middle" style="stroke-width:0.08px">-0.06</text>
<text transform="translate(703.3,59.84) scale(0.95,1)" font-size="8" text-anchor="middle" style="stroke-width:0.08px">-0.08</text>
<text transform="translate(567.7,78.11) scale(0.95,1)" font-size="8" text-anchor="middle" style="stroke-width:0.08px">-0.07</text>
<text transform="translate(590.3,78.11) scale(0.95,1)" font-size="8" text-anchor="middle" style="stroke-width:0.08px">0.24</text>
<text transform="translate(612.9,78.11) scale(0.95,1)" font-size="8" text-anchor="middle" style="stroke-width:0.08px">-0.22</text>
<text transform="translate(635.5,78.11) scale(0.95,1)" font-size="8" text-anchor="middle" style="stroke-width:0.08px">1.90</text>
<text transform="translate(658.1,78.11) scale(0.95,1)" font-size="8" text-anchor="middle" style="stroke-width:0.08px">0.17</text>
<text transform="translate(680.7,78.11) scale(0.95,1)" font-size="8" text-anchor="middle" style="stroke-width:0.08px">0.00</text>
<text transform="translate(703.3,78.11) scale(0.95,1)" font-size="8" text-anchor="middle" style="stroke-width:0.08px">0.12</text>
<text transform="translate(567.7,96.39) scale(0.95,1)" font-size="8" text-anchor="middle" style="stroke-width:0.08px">0.12</text>
<text transform="translate(590.3,96.39) scale(0.95,1)" font-size="8" text-anchor="middle" style="stroke-width:0.08px">0.14</text>
<text transform="translate(612.9,96.39) scale(0.95,1)" font-size="8" text-anchor="middle" style="stroke-width:0.08px">1.36</text>
<text transform="translate(635.5,96.39) scale(0.95,1)" font-size="8" text-anchor="middle" style="stroke-width:0.08px">-0.00</text>
<text transform="translate(658.1,96.39) scale(0.95,1)" font-size="8" text-anchor="middle" style="stroke-width:0.08px">-0.46</text>
<text transform="translate(680.7,96.39) scale(0.95,1)" font-size="8" text-anchor="middle" style="stroke-width:0.08px">-0.23</text>
<text transform="translate(703.3,96.39) scale(0.95,1)" font-size="8" text-anchor="middle" style="stroke-width:0.08px">-0.52</text>
<text transform="translate(567.7,114.66) scale(0.95,1)" font-size="8" text-anchor="middle" style="stroke-width:0.08px">1.22</text>
<text transform="translate(590.3,114.66) scale(0.95,1)" font-size="8" text-anchor="middle" style="stroke-width:0.08px">4.27</text>
<text transform="translate(612.9,114.66) scale(0.95,1)" font-size="8" text-anchor="middle" style="stroke-width:0.08px">-0.61</text>
<text transform="translate(635.5,114.66) scale(0.95,1)" font-size="8" text-anchor="middle" style="stroke-width:0.08px">1.24</text>
<text transform="translate(658.1,114.66) scale(0.95,1)" font-size="8" text-anchor="middle" style="stroke-width:0.08px">0.08</text>
<text transform="translate(680.7,114.66) scale(0.95,1)" font-size="8" text-anchor="middle" style="stroke-width:0.08px">-0.33</text>
<text transform="translate(703.3,114.66) scale(0.95,1)" font-size="8" text-anchor="middle" style="stroke-width:0.08px">0.32</text>
<text transform="translate(567.7,132.94) scale(0.95,1)" font-size="8" text-anchor="middle" style="stroke-width:0.08px">1.23</text>
<text transform="translate(590.3,132.94) scale(0.95,1)" font-size="8" text-anchor="middle" style="stroke-width:0.08px">0.98</text>
<text transform="translate(612.9,132.94) scale(0.95,1)" font-size="8" text-anchor="middle" style="stroke-width:0.08px">-0.05</text>
<text transform="translate(635.5,132.94) scale(0.95,1)" font-size="8" text-anchor="middle" style="stroke-width:0.08px">0.38</text>
<text transform="translate(658.1,132.94) scale(0.95,1)" font-size="8" text-anchor="middle" style="stroke-width:0.08px">0.04</text>
<text transform="translate(680.7,132.94) scale(0.95,1)" font-size="8" text-anchor="middle" style="stroke-width:0.08px">-0.40</text>
<text transform="translate(703.3,132.94) scale(0.95,1)" font-size="8" text-anchor="middle" style="stroke-width:0.08px">0.38</text>
<text transform="translate(545.1,151.21) scale(0.95,1)" font-size="8" text-anchor="middle" style="stroke-width:0.08px">5.30</text>
<text transform="translate(567.7,151.21) scale(0.95,1)" font-size="8" text-anchor="middle" style="stroke-width:0.08px">0.45</text>
<text transform="translate(590.3,151.21) scale(0.95,1)" font-size="8" text-anchor="middle" style="stroke-width:0.08px">3.04</text>
<text transform="translate(612.9,151.21) scale(0.95,1)" font-size="8" text-anchor="middle" style="stroke-width:0.08px">0.40</text>
<text transform="translate(635.5,151.21) scale(0.95,1)" font-size="8" text-anchor="middle" style="stroke-width:0.08px">0.03</text>
<text transform="translate(658.1,151.21) scale(0.95,1)" font-size="8" text-anchor="middle" style="stroke-width:0.08px">-0.16</text>
<text transform="translate(680.7,151.21) scale(0.95,1)" font-size="8" text-anchor="middle" style="stroke-width:0.08px">-0.14</text>
<text transform="translate(703.3,151.21) scale(0.95,1)" font-size="8" text-anchor="middle" style="stroke-width:0.08px">-0.18</text>
<rect x="533.8" y="139.92" width="22.6" height="18.27" fill="none" stroke="#000" stroke-width="1.35"/>
<rect x="556.4" y="121.65" width="22.6" height="18.27" fill="none" stroke="#000" stroke-width="1.35"/>
<rect x="579" y="103.38" width="22.6" height="18.27" fill="none" stroke="#000" stroke-width="1.35"/>
<rect x="601.6" y="85.1" width="22.6" height="18.27" fill="none" stroke="#000" stroke-width="1.35"/>
<rect x="624.2" y="66.82" width="22.6" height="18.27" fill="none" stroke="#000" stroke-width="1.35"/>
<rect x="646.8" y="48.55" width="22.6" height="18.27" fill="none" stroke="#000" stroke-width="1.35"/>
<rect x="669.4" y="30.27" width="22.6" height="18.27" fill="none" stroke="#000" stroke-width="1.35"/>
<rect x="692" y="12" width="22.6" height="18.27" fill="none" stroke="#000" stroke-width="1.35"/>
<line x1="529.8" y1="21.14" x2="533.8" y2="21.14" stroke="#000" stroke-width="0.8" />
<text transform="translate(527.4,23.34) scale(0.95,1)" font-size="8" text-anchor="end" style="stroke-width:0.08px">PC512</text>
<line x1="529.8" y1="39.41" x2="533.8" y2="39.41" stroke="#000" stroke-width="0.8" />
<text transform="translate(527.4,41.61) scale(0.95,1)" font-size="8" text-anchor="end" style="stroke-width:0.08px">PC128</text>
<line x1="529.8" y1="57.69" x2="533.8" y2="57.69" stroke="#000" stroke-width="0.8" />
<text transform="translate(527.4,59.89) scale(0.95,1)" font-size="8" text-anchor="end" style="stroke-width:0.08px">PC32</text>
<line x1="529.8" y1="75.96" x2="533.8" y2="75.96" stroke="#000" stroke-width="0.8" />
<text transform="translate(527.4,78.16) scale(0.95,1)" font-size="8" text-anchor="end" style="stroke-width:0.08px">PC8</text>
<line x1="529.8" y1="94.24" x2="533.8" y2="94.24" stroke="#000" stroke-width="0.8" />
<text transform="translate(527.4,96.44) scale(0.95,1)" font-size="8" text-anchor="end" style="stroke-width:0.08px">PC4</text>
<line x1="529.8" y1="112.51" x2="533.8" y2="112.51" stroke="#000" stroke-width="0.8" />
<text transform="translate(527.4,114.71) scale(0.95,1)" font-size="8" text-anchor="end" style="stroke-width:0.08px">PC2</text>
<line x1="529.8" y1="130.79" x2="533.8" y2="130.79" stroke="#000" stroke-width="0.8" />
<text transform="translate(527.4,132.99) scale(0.95,1)" font-size="8" text-anchor="end" style="stroke-width:0.08px">PC1</text>
<line x1="529.8" y1="149.06" x2="533.8" y2="149.06" stroke="#000" stroke-width="0.8" />
<text transform="translate(527.4,151.26) scale(0.95,1)" font-size="8" text-anchor="end" style="stroke-width:0.08px">LR</text>
<line x1="545.1" y1="158.2" x2="545.1" y2="161.7" stroke="#000" stroke-width="0.8" />
<text transform="translate(545.1,170.3) scale(0.95,1)" font-size="7.8" text-anchor="middle" style="stroke-width:0.08px">LR</text>
<line x1="567.7" y1="158.2" x2="567.7" y2="161.7" stroke="#000" stroke-width="0.8" />
<text transform="translate(567.7,170.3) scale(0.95,1)" font-size="7.8" text-anchor="middle" style="stroke-width:0.08px">PC1</text>
<line x1="590.3" y1="158.2" x2="590.3" y2="161.7" stroke="#000" stroke-width="0.8" />
<text transform="translate(590.3,170.3) scale(0.95,1)" font-size="7.8" text-anchor="middle" style="stroke-width:0.08px">PC2</text>
<line x1="612.9" y1="158.2" x2="612.9" y2="161.7" stroke="#000" stroke-width="0.8" />
<text transform="translate(612.9,170.3) scale(0.95,1)" font-size="7.8" text-anchor="middle" style="stroke-width:0.08px">PC4</text>
<line x1="635.5" y1="158.2" x2="635.5" y2="161.7" stroke="#000" stroke-width="0.8" />
<text transform="translate(635.5,170.3) scale(0.95,1)" font-size="7.8" text-anchor="middle" style="stroke-width:0.08px">PC8</text>
<line x1="658.1" y1="158.2" x2="658.1" y2="161.7" stroke="#000" stroke-width="0.8" />
<text transform="translate(658.1,170.3) scale(0.95,1)" font-size="7.8" text-anchor="middle" style="stroke-width:0.08px">PC32</text>
<line x1="680.7" y1="158.2" x2="680.7" y2="161.7" stroke="#000" stroke-width="0.8" />
<text transform="translate(680.7,170.3) scale(0.95,1)" font-size="7.8" text-anchor="middle" style="stroke-width:0.08px">PC128</text>
<line x1="703.3" y1="158.2" x2="703.3" y2="161.7" stroke="#000" stroke-width="0.8" />
<text transform="translate(703.3,170.3) scale(0.95,1)" font-size="7.8" text-anchor="middle" style="stroke-width:0.08px">PC512</text>
<text x="624" y="7.2" font-size="9.25" text-anchor="middle" >Control effect (d): layer 16</text>
<text x="623.8" y="181" font-size="9.15" text-anchor="middle" >Affected axis</text>
<text transform="translate(497.9,85) rotate(-90)" font-size="9.3" text-anchor="middle" >Target axis</text>
<defs><linearGradient id="bwr" x1="0" y1="0" x2="0" y2="1"><stop offset="0" stop-color="#ff0000"/><stop offset="0.5" stop-color="#ffffff"/><stop offset="1" stop-color="#0000ff"/></linearGradient></defs>
<rect x="725.6" y="34" width="5.5" height="102.1" fill="url(#bwr)" />
<line x1="730.9" y1="42.13" x2="734.2" y2="42.13" stroke="#000" stroke-width="0.8" />
<text x="737" y="45.28" font-size="8.8" >4</text>
<line x1="730.9" y1="63.59" x2="734.2" y2="63.59" stroke="#000" stroke-width="0.8" />
<text x="737" y="66.74" font-size="8.8" >2</text>
<line x1="730.9" y1="85.05" x2="734.2" y2="85.05" stroke="#000" stroke-width="0.8" />
<text x="737" y="88.2" font-size="8.8" >0</text>
<line x1="730.9" y1="106.51" x2="734.2" y2="106.51" stroke="#000" stroke-width="0.8" />
<text x="737" y="109.66" font-size="8.8" >−2</text>
<line x1="730.9" y1="127.97" x2="734.2" y2="127.97" stroke="#000" stroke-width="0.8" />
<text x="737" y="131.12" font-size="8.8" >−4</text>
<text x="733.2" y="154.4" font-size="14.5" font-style="italic" font-family='"Liberation Serif", serif' >d</text>
<text x="486.3" y="18.7" font-size="19.8" font-weight="bold" >e</text>
<polygon points="510.3,290.1 538.05,286.98 565.8,289.1 593.55,290.1 621.3,287.73 621.3,293.98 593.55,296.35 565.8,295.35 538.05,293.23 510.3,296.35" fill="#2ca02c" fill-opacity="0.25" stroke="#2ca02c" stroke-opacity="0.25" stroke-width="0.6"/>
<polygon points="510.3,276.73 538.05,267.6 565.8,261.6 593.55,259.1 621.3,266.35 621.3,273.85 593.55,266.6 565.8,269.1 538.05,275.1 510.3,284.23" fill="#2020ff" fill-opacity="0.25" stroke="#2020ff" stroke-opacity="0.25" stroke-width="0.6"/>
<polygon points="510.3,261.98 538.05,230.85 565.8,219.85 593.55,215.35 621.3,230.35 621.3,242.85 593.55,230.35 565.8,233.6 538.05,243.35 510.3,270.73" fill="#ff2020" fill-opacity="0.25" stroke="#ff2020" stroke-opacity="0.25" stroke-width="0.6"/>
<polyline points="510.3,293.23 538.05,290.1 565.8,292.23 593.55,293.23 621.3,290.85" fill="none" stroke="#2ca02c" stroke-width="1.8" stroke-linecap="butt" stroke-linejoin="round" />
<polyline points="510.3,280.48 538.05,271.35 565.8,265.35 593.55,262.85 621.3,270.1" fill="none" stroke="#2020ff" stroke-width="1.8" stroke-linecap="butt" stroke-linejoin="round" />
<polyline points="510.3,266.35 538.05,237.1 565.8,226.73 593.55,222.85 621.3,236.6" fill="none" stroke="#ff2020" stroke-width="1.8" stroke-linecap="butt" stroke-linejoin="round" />
<path d="M505.3,211.5 L505.3,301 L627.5,301" fill="none" stroke="#000" stroke-width="1.0" stroke-linecap="butt"/>
<line x1="501.1" y1="292.6" x2="505.3" y2="292.6" stroke="#000" stroke-width="1" />
<text x="497.2" y="295.85" font-size="9" text-anchor="end" >0</text>
<line x1="501.1" y1="267.6" x2="505.3" y2="267.6" stroke="#000" stroke-width="1" />
<text x="497.2" y="270.85" font-size="9" text-anchor="end" >2</text>
<line x1="501.1" y1="242.6" x2="505.3" y2="242.6" stroke="#000" stroke-width="1" />
<text x="497.2" y="245.85" font-size="9" text-anchor="end" >4</text>
<line x1="501.1" y1="217.6" x2="505.3" y2="217.6" stroke="#000" stroke-width="1" />
<text x="497.2" y="220.85" font-size="9" text-anchor="end" >6</text>
<line x1="510.3" y1="301" x2="510.3" y2="304.6" stroke="#000" stroke-width="1" />
<text x="510.3" y="314.9" font-size="9" text-anchor="middle" >1</text>
<line x1="538.05" y1="301" x2="538.05" y2="304.6" stroke="#000" stroke-width="1" />
<text x="538.05" y="314.9" font-size="9" text-anchor="middle" >8</text>
<line x1="565.8" y1="301" x2="565.8" y2="304.6" stroke="#000" stroke-width="1" />
<text x="565.8" y="314.9" font-size="9" text-anchor="middle" >16</text>
<line x1="593.55" y1="301" x2="593.55" y2="304.6" stroke="#000" stroke-width="1" />
<text x="593.55" y="314.9" font-size="9" text-anchor="middle" >24</text>
<line x1="621.3" y1="301" x2="621.3" y2="304.6" stroke="#000" stroke-width="1" />
<text x="621.3" y="314.9" font-size="9" text-anchor="middle" >32</text>
<text x="562.6" y="198.9" font-size="11.9" text-anchor="middle" >Llama-3.1 8B</text>
<text x="566" y="326.5" font-size="8.4" text-anchor="middle" >Layer</text>
<rect x="508" y="204.5" width="48" height="26.9" rx="1.5" fill="#fff" fill-opacity="0.8" stroke="#d9d9d9" stroke-width="0.7"/>
<line x1="509.6" y1="209.6" x2="523" y2="209.6" stroke="#ff2020" stroke-width="1.5" />
<text x="526.9" y="211.7" font-size="5.9" style="stroke-width:0">LR</text>
<line x1="509.6" y1="217.7" x2="523" y2="217.7" stroke="#2020ff" stroke-width="1.5" />
<text x="526.9" y="219.8" font-size="5.9" style="stroke-width:0">Early PCs</text>
<line x1="509.6" y1="225.8" x2="523" y2="225.8" stroke="#2ca02c" stroke-width="1.5" />
<text x="526.9" y="227.9" font-size="5.9" style="stroke-width:0">Late PCs</text>
<polygon points="658.6,292.37 683.28,291.47 707.96,292.16 732.64,292.86 757.32,291.12 757.32,294.6 732.64,296.35 707.96,295.65 683.28,294.95 658.6,295.86" fill="#2ca02c" fill-opacity="0.25" stroke="#2ca02c" stroke-opacity="0.25" stroke-width="0.6"/>
<polygon points="658.6,282.48 683.28,269.86 707.96,278.92 732.64,275.85 757.32,275.85 757.32,280.73 732.64,280.73 707.96,283.8 683.28,274.74 658.6,287.35" fill="#2020ff" fill-opacity="0.25" stroke="#2020ff" stroke-opacity="0.25" stroke-width="0.6"/>
<polygon points="658.6,277.94 683.28,253.9 707.96,230.48 732.64,216.33 757.32,234.31 757.32,245.46 732.64,230.27 707.96,241.63 683.28,262.26 658.6,283.52" fill="#ff2020" fill-opacity="0.25" stroke="#ff2020" stroke-opacity="0.25" stroke-width="0.6"/>
<polyline points="658.6,294.12 683.28,293.21 707.96,293.91 732.64,294.6 757.32,292.86" fill="none" stroke="#2ca02c" stroke-width="1.8" stroke-linecap="butt" stroke-linejoin="round" />
<polyline points="658.6,284.91 683.28,272.3 707.96,281.36 732.64,278.29 757.32,278.29" fill="none" stroke="#2020ff" stroke-width="1.8" stroke-linecap="butt" stroke-linejoin="round" />
<polyline points="658.6,280.73 683.28,258.08 707.96,236.06 732.64,223.3 757.32,239.89" fill="none" stroke="#ff2020" stroke-width="1.8" stroke-linecap="butt" stroke-linejoin="round" />
<path d="M653.5,211.2 L653.5,301 L759.4,301" fill="none" stroke="#000" stroke-width="1.0" stroke-linecap="butt"/>
<line x1="649.3" y1="295.3" x2="653.5" y2="295.3" stroke="#000" stroke-width="1" />
<text x="645.4" y="298.55" font-size="9" text-anchor="end" >0</text>
<line x1="649.3" y1="260.45" x2="653.5" y2="260.45" stroke="#000" stroke-width="1" />
<text x="645.4" y="263.7" font-size="9" text-anchor="end" >5</text>
<line x1="649.3" y1="225.6" x2="653.5" y2="225.6" stroke="#000" stroke-width="1" />
<text x="645.4" y="228.85" font-size="9" text-anchor="end" >10</text>
<line x1="658.6" y1="301" x2="658.6" y2="304.6" stroke="#000" stroke-width="1" />
<text x="658.6" y="314.9" font-size="9" text-anchor="middle" >1</text>
<line x1="683.28" y1="301" x2="683.28" y2="304.6" stroke="#000" stroke-width="1" />
<text x="683.28" y="314.9" font-size="9" text-anchor="middle" >20</text>
<line x1="707.96" y1="301" x2="707.96" y2="304.6" stroke="#000" stroke-width="1" />
<text x="707.96" y="314.9" font-size="9" text-anchor="middle" >40</text>
<line x1="732.64" y1="301" x2="732.64" y2="304.6" stroke="#000" stroke-width="1" />
<text x="732.64" y="314.9" font-size="9" text-anchor="middle" >60</text>
<line x1="757.32" y1="301" x2="757.32" y2="304.6" stroke="#000" stroke-width="1" />
<text x="757.32" y="314.9" font-size="9" text-anchor="middle" >80</text>
<text x="702.2" y="200.4" font-size="11.9" text-anchor="middle" >Llama-3.1 70B</text>
<text x="707.7" y="326.5" font-size="8.4" text-anchor="middle" >Layer</text>
<rect x="656.2" y="204.5" width="48" height="26.9" rx="1.5" fill="#fff" fill-opacity="0.8" stroke="#d9d9d9" stroke-width="0.7"/>
<line x1="657.8" y1="209.6" x2="671.2" y2="209.6" stroke="#ff2020" stroke-width="1.5" />
<text x="675.1" y="211.7" font-size="5.9" style="stroke-width:0">LR</text>
<line x1="657.8" y1="217.7" x2="671.2" y2="217.7" stroke="#2020ff" stroke-width="1.5" />
<text x="675.1" y="219.8" font-size="5.9" style="stroke-width:0">Early PCs</text>
<line x1="657.8" y1="225.8" x2="671.2" y2="225.8" stroke="#2ca02c" stroke-width="1.5" />
<text x="675.1" y="227.9" font-size="5.9" style="stroke-width:0">Late PCs</text>
<text transform="translate(485,256.4) rotate(-90)" font-size="8.4" text-anchor="middle" >Control effect (d)</text>
<text x="480.3" y="208.9" font-size="18.7" font-weight="bold" >f</text>
</svg>
</body></html>
